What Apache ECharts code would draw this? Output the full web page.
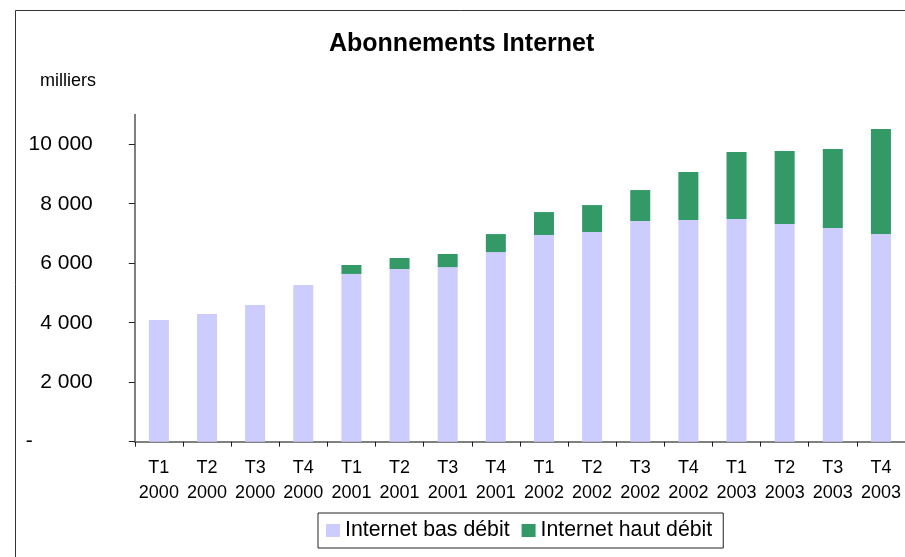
<!DOCTYPE html>
<html>
<head>
<meta charset="utf-8">
<script src="https://cdn.jsdelivr.net/npm/echarts@6/dist/echarts.min.js"></script>
<style>
html,body{margin:0;padding:0;background:#fff;}
#chart{width:905px;height:557px;}
</style>
</head>
<body>
<div id="chart"></div>
<script>
var categories = ['T1\n2000','T2\n2000','T3\n2000','T4\n2000','T1\n2001','T2\n2001','T3\n2001','T4\n2001','T1\n2002','T2\n2002','T3\n2002','T4\n2002','T1\n2003','T2\n2003','T3\n2003','T4\n2003'];
var basDebit = [4090, 4290, 4595, 5265, 5640, 5805, 5870, 6375, 6950, 7050, 7420, 7450, 7485, 7320, 7185, 6980];
var hautDebit = [0, 0, 0, 0, 300, 370, 440, 605, 770, 905, 1040, 1615, 2255, 2450, 2655, 3530];
var yTicks = [0, 2000, 4000, 6000, 8000, 10000];
var seriesNames = ['Internet bas débit', 'Internet haut débit'];
var titleText = 'Abonnements Internet';
var unitText = 'milliers';

function fmt(v){
  if (v === 0) return '{d|-}';
  var s = String(v);
  return s.replace(/\B(?=(\d{3})+(?!\d))/g, ' ');
}

var chart = echarts.init(document.getElementById('chart'), null, {renderer:'canvas'});
chart.setOption({
  animation: false,
  backgroundColor: '#ffffff',
  textStyle: {fontFamily: 'Liberation Sans, Arial, sans-serif'},
  title: {
    text: titleText,
    left: 329, top: 29, padding: 0,
    textStyle: {fontFamily: 'Liberation Sans, Arial, sans-serif', fontSize: 25, fontWeight: 'bold', color: '#000', lineHeight: 30}
  },
  graphic: [
    {type: 'rect', shape: {x: 15.5, y: 10.5, width: 1000, height: 1000}, style: {fill: 'none', stroke: '#333', lineWidth: 1}, silent: true, z: -1},
    {type: 'text', x: 40, y: 81, style: {text: unitText, fontFamily: 'Liberation Sans, Arial, sans-serif', fontSize: 18, fill: '#000', verticalAlign: 'middle', align: 'left'}}
  ],
  legend: {
    data: seriesNames,
    left: 318, top: 513,
    padding: [7, 11, 7, 8],
    itemWidth: 14, itemHeight: 13, itemGap: 12,
    borderColor: '#222', borderWidth: 1,
    icon: 'rect',
    textStyle: {fontFamily: 'Liberation Sans, Arial, sans-serif', fontSize: 21.3, color: '#000', padding: [0,0,0,0]}
  },
  grid: {left: 134.8, top: 114.5, width: 774.4, height: 327.2, containLabel: false},
  xAxis: {
    type: 'category',
    data: categories,
    boundaryGap: true,
    axisLine: {lineStyle: {color: '#808080', width: 2}},
    axisTick: {show: true, length: 5, lineStyle: {color: '#222', width: 1}},
    axisLabel: {interval: 0, margin: 14, fontSize: 18, lineHeight: 25, color: '#000', fontFamily: 'Liberation Sans, Arial, sans-serif'}
  },
  yAxis: {
    type: 'value',
    min: 0, max: 11000,
    splitLine: {show: false},
    axisLine: {show: true, lineStyle: {color: '#555', width: 1.5}},
    axisTick: {show: true, length: 6, customValues: yTicks, lineStyle: {color: '#222', width: 1}},
    axisLabel: {
      customValues: yTicks,
      margin: 42, fontSize: 21, color: '#000', fontFamily: 'Liberation Sans, Arial, sans-serif',
      formatter: fmt,
      rich: {d: {fontSize: 21, color: '#000', padding: [0, 60, 0, 0], fontFamily: 'Liberation Sans, Arial, sans-serif'}}
    }
  },
  series: [
    {name: seriesNames[0], type: 'bar', stack: 'total', data: basDebit, barWidth: 20, itemStyle: {color: '#CCCCFF'}},
    {name: seriesNames[1], type: 'bar', stack: 'total', data: hautDebit, barWidth: 20, itemStyle: {color: '#339966'}}
  ]
});
</script>
</body>
</html>
